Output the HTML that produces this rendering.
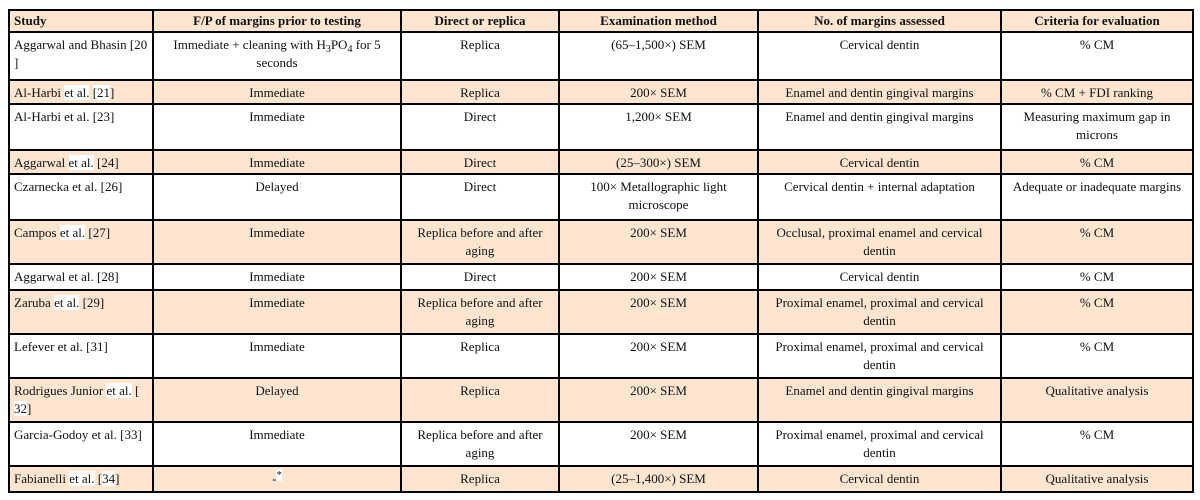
<!DOCTYPE html>
<html><head><style>
body{margin:0;background:#fff;}
table{position:absolute;left:8px;top:9px;border-collapse:collapse;table-layout:fixed;font-family:"Liberation Serif",serif;font-size:13px;color:#111;}
td,th{border:2px solid #000;padding:3px 4px 0 4px;vertical-align:top;line-height:18px;text-align:center;overflow:hidden;white-space:nowrap;}
th{font-weight:bold;padding-top:1px;}
td:first-child,th:first-child{text-align:left;}
tr.o td,tr.o th{background:#fde5d0;}
.w{background:#fff;}
sub{font-size:10px;line-height:0;vertical-align:-3px;}
sup{line-height:0;}
</style></head><body>
<table>
<colgroup><col style="width:144px"><col style="width:248px"><col style="width:158px"><col style="width:199px"><col style="width:243px"><col style="width:192px"></colgroup>
<tr class="o" style="height:22px"><th>Study</th><th>F/P of margins prior to testing</th><th>Direct or replica</th><th>Examination method</th><th>No. of margins assessed</th><th>Criteria for evaluation</th></tr>
<tr style="height:48px"><td>Aggarwal and Bhasin [20<br>]</td><td>Immediate + cleaning with H<sub>3</sub>PO<sub>4</sub> for 5<br>seconds</td><td>Replica</td><td>(65–1,500×) SEM</td><td>Cervical dentin</td><td>% CM</td></tr>
<tr class="o" style="height:24px"><td>Al-Harbi <span class="w">et al.</span> <span class="w">[21</span>]</td><td>Immediate</td><td>Replica</td><td>200× SEM</td><td>Enamel and dentin gingival margins</td><td>% CM + FDI ranking</td></tr>
<tr style="height:46px"><td>Al-Harbi et al. [23]</td><td>Immediate</td><td>Direct</td><td>1,200× SEM</td><td>Enamel and dentin gingival margins</td><td>Measuring maximum gap in<br>microns</td></tr>
<tr class="o" style="height:24px"><td>Aggarwal <span class="w">et al.</span> [24]</td><td>Immediate</td><td>Direct</td><td>(25–300×) SEM</td><td>Cervical dentin</td><td>% CM</td></tr>
<tr style="height:46px"><td>Czarnecka et al. [26]</td><td>Delayed</td><td>Direct</td><td>100× Metallographic light<br>microscope</td><td>Cervical dentin + internal adaptation</td><td>Adequate or inadequate margins</td></tr>
<tr class="o" style="height:44px"><td>Campos <span class="w">et al.</span> [27]</td><td>Immediate</td><td>Replica before and after<br>aging</td><td>200× SEM</td><td>Occlusal, proximal enamel and cervical<br>dentin</td><td>% CM</td></tr>
<tr style="height:26px"><td>Aggarwal et al. [28]</td><td>Immediate</td><td>Direct</td><td>200× SEM</td><td>Cervical dentin</td><td>% CM</td></tr>
<tr class="o" style="height:44px"><td>Zaruba <span class="w">et al.</span> [29]</td><td>Immediate</td><td>Replica before and after<br>aging</td><td>200× SEM</td><td>Proximal enamel, proximal and cervical<br>dentin</td><td>% CM</td></tr>
<tr style="height:44px"><td>Lefever et al. [31]</td><td>Immediate</td><td>Replica</td><td>200× SEM</td><td>Proximal enamel, proximal and cervical<br>dentin</td><td>% CM</td></tr>
<tr class="o" style="height:44px"><td>Rodrigues Junior <span class="w">et al.</span> [<br><span class="w">32</span>]</td><td>Delayed</td><td>Replica</td><td>200× SEM</td><td>Enamel and dentin gingival margins</td><td>Qualitative analysis</td></tr>
<tr style="height:44px"><td>Garcia-Godoy et al. [33]</td><td>Immediate</td><td>Replica before and after<br>aging</td><td>200× SEM</td><td>Proximal enamel, proximal and cervical<br>dentin</td><td>% CM</td></tr>
<tr class="o" style="height:26px"><td>Fabianelli <span class="w">et al.</span> [<span class="w">34</span>]</td><td>-<sup class="w">*</sup></td><td>Replica</td><td>(25–1,400×) SEM</td><td>Cervical dentin</td><td>Qualitative analysis</td></tr>
</table>
</body></html>
